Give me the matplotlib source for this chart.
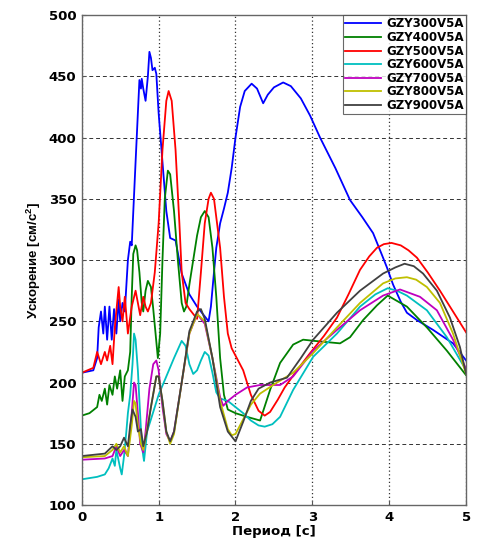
import matplotlib
matplotlib.use("Agg")
import matplotlib.pyplot as plt

plt.rcParams['font.family'] = ['DejaVu Sans']
plt.rcParams['mathtext.fontset'] = 'custom'
plt.rcParams['mathtext.rm'] = 'Liberation Sans:bold'
plt.rcParams['mathtext.bf'] = 'Liberation Sans:bold'

labels = ['GZY300V5A', 'GZY400V5A', 'GZY500V5A', 'GZY600V5A',
          'GZY700V5A', 'GZY800V5A', 'GZY900V5A']
colors = ['#0000ff', '#008000', '#ff0000', '#00bfbf', '#bf00bf', '#bfbf00', '#404040']
xticks = [0, 1, 2, 3, 4, 5]
yticks = [100, 150, 200, 250, 300, 350, 400, 450, 500]

x300 = [0, 0.15, 0.2, 0.22, 0.25, 0.28, 0.3, 0.33, 0.36, 0.39, 0.42, 0.45, 0.48, 0.5, 0.53, 0.56,
        0.6, 0.63, 0.65, 0.7, 0.75, 0.77, 0.78, 0.8, 0.83, 0.86, 0.88, 0.9, 0.92, 0.95, 0.97,
        1.0, 1.05, 1.1, 1.15, 1.22, 1.3, 1.4, 1.5, 1.6, 1.65, 1.68, 1.72, 1.75, 1.8, 1.85,
        1.9, 1.95, 2.0, 2.06, 2.12, 2.21, 2.28, 2.36, 2.42, 2.5, 2.62, 2.72, 2.85, 2.97, 3.1,
        3.3, 3.49, 3.65, 3.79, 3.9, 3.97, 4.05, 4.15, 4.23, 4.36, 4.57, 4.83, 5.0]
y300 = [208, 210, 220, 245, 258, 240, 262, 235, 262, 235, 260, 240, 268, 250, 265, 258,
        300, 315, 312, 380, 447, 440, 448, 440, 430, 450, 470, 465, 455, 457, 452,
        420, 380, 340, 318, 316, 289, 272, 262, 254, 250, 262, 290, 310, 330, 342,
        355, 375, 400, 425, 438, 444, 440, 428, 435, 441, 445, 442, 432, 418, 400,
        375, 349, 335, 322, 305, 294, 280, 266, 257, 251, 243, 232, 218]

x400 = [0, 0.1, 0.2, 0.23, 0.26, 0.3, 0.33, 0.36, 0.4, 0.43, 0.46, 0.5, 0.53, 0.56, 0.6, 0.63,
        0.65, 0.67, 0.7, 0.72, 0.75, 0.78, 0.8, 0.83, 0.86, 0.9, 0.93, 0.96, 0.99, 1.02, 1.05,
        1.08, 1.12, 1.15, 1.2, 1.25, 1.3, 1.33, 1.36, 1.4, 1.45, 1.5, 1.55, 1.6, 1.65, 1.7,
        1.75, 1.8, 1.85, 1.9, 2.0, 2.15, 2.32, 2.45, 2.58, 2.75, 2.88, 3.03, 3.19, 3.36,
        3.49, 3.66, 3.84, 3.98, 4.23, 4.49, 4.75, 5.0]
y400 = [173, 175, 180, 190, 185, 195, 182, 198, 190, 205, 195, 210, 185, 205, 210, 225,
        270, 305, 312, 308, 290, 265, 258, 275, 283, 278, 260, 240, 220, 240, 300,
        350, 373, 370, 340, 300, 265, 258, 262, 280, 300, 320, 335, 340, 335, 310,
        270, 220, 190, 178, 175, 172, 169, 194, 216, 231, 235, 234, 233, 232,
        237, 251, 263, 271, 262, 245, 226, 206]

x500 = [0, 0.15, 0.2, 0.25, 0.3, 0.33, 0.37, 0.4, 0.43, 0.46, 0.48, 0.5, 0.53, 0.56, 0.6,
        0.65, 0.7, 0.73, 0.76, 0.8, 0.83, 0.86, 0.9, 0.95, 1.0, 1.05, 1.1, 1.13, 1.17, 1.22,
        1.27, 1.3, 1.35, 1.4, 1.45, 1.5, 1.55, 1.6, 1.65, 1.68, 1.72, 1.8, 1.85, 1.9, 1.95,
        2.0, 2.1, 2.2, 2.3, 2.38, 2.45, 2.55, 2.64, 2.8, 2.97, 3.15, 3.32, 3.47, 3.62, 3.74,
        3.84, 3.93, 4.03, 4.15, 4.25, 4.36, 4.5, 4.66, 4.82, 5.0]
y500 = [208, 212, 225, 215, 225, 218, 230, 215, 245, 265, 278, 262, 250, 270, 240,
        262, 275, 265, 255, 270, 262, 258, 265, 290, 330, 390, 430, 438, 430, 390,
        330, 290, 265, 260, 256, 252, 290, 330, 350, 355, 350, 310, 270, 240, 228,
        222, 210, 190, 177, 173, 176, 186, 196, 210, 224, 238, 253, 272, 292, 303,
        310, 313, 314, 312, 308, 302, 290, 275, 259, 241]

x600 = [0, 0.2, 0.3, 0.35, 0.4, 0.43, 0.45, 0.5, 0.52, 0.55, 0.58, 0.6, 0.63, 0.66, 0.68,
        0.7, 0.73, 0.75, 0.78, 0.8, 0.81, 0.85, 0.9, 0.95, 1.0, 1.1, 1.2, 1.3, 1.35, 1.4,
        1.45, 1.5, 1.55, 1.6, 1.65, 1.7, 1.75, 1.8, 1.9, 2.0, 2.1, 2.2, 2.3, 2.38, 2.48,
        2.58, 2.75, 3.01, 3.32, 3.62, 3.82, 3.98, 4.1, 4.23, 4.49, 4.75, 5.0]
y600 = [121, 123, 125, 130, 138, 132, 145, 130, 125, 140, 160, 175, 190, 215, 240,
        235, 210, 185, 150, 140, 136, 160, 170, 180, 190, 205, 220, 234, 230, 215,
        207, 210, 218, 225, 222, 208, 192, 187, 185, 180, 175, 169, 165, 164, 166,
        172, 194, 221, 240, 262, 272, 277, 275, 271, 259, 237, 210]

x700 = [0, 0.3, 0.4, 0.45, 0.5, 0.55, 0.6, 0.65, 0.68, 0.7, 0.73, 0.76, 0.8, 0.83, 0.88,
        0.93, 0.97, 1.0, 1.05, 1.1, 1.15, 1.2, 1.3, 1.4, 1.5, 1.6, 1.7, 1.8, 1.84, 1.9,
        2.0, 2.15, 2.32, 2.58, 2.75, 3.01, 3.32, 3.62, 3.92, 4.14, 4.4, 4.62, 4.83, 5.0]
y700 = [137, 138, 140, 148, 140, 145, 140, 175, 200, 198, 175, 150, 143, 160, 195,
        215, 218, 210, 180, 158, 152, 160, 200, 240, 256, 248, 220, 188, 181, 185,
        190, 196, 198, 198, 205, 226, 243, 259, 271, 276, 270, 259, 235, 211]

x800 = [0, 0.3, 0.4, 0.45, 0.5, 0.55, 0.6, 0.65, 0.68, 0.7, 0.73, 0.77, 0.8, 0.83, 0.9,
        0.97, 1.0, 1.05, 1.1, 1.15, 1.2, 1.3, 1.4, 1.5, 1.6, 1.7, 1.8, 1.9, 1.95, 2.0,
        2.1, 2.2, 2.32, 2.54, 2.75, 3.01, 3.32, 3.62, 3.92, 4.08, 4.23, 4.35, 4.49, 4.66,
        4.83, 5.0]
y800 = [139, 140, 145, 150, 143, 148, 140, 165, 185, 183, 165, 150, 145, 155, 180,
        205, 205, 185, 160, 150, 158, 200, 240, 256, 250, 220, 185, 162, 157, 158,
        170, 182, 191, 200, 208, 224, 245, 265, 281, 285, 286, 284, 278, 265,
        240, 207]

x900 = [0, 0.3, 0.35, 0.4, 0.45, 0.5, 0.55, 0.6, 0.63, 0.66, 0.7, 0.73, 0.77, 0.8, 0.85,
        0.9, 0.97, 1.0, 1.05, 1.1, 1.15, 1.2, 1.3, 1.4, 1.5, 1.55, 1.6, 1.7, 1.8, 1.9, 2.0,
        2.1, 2.2, 2.3, 2.45, 2.67, 2.85, 3.01, 3.32, 3.62, 3.92, 4.08, 4.2, 4.32, 4.44,
        4.62, 4.79, 4.92, 5.0]
y900 = [140, 142, 145, 148, 145, 148, 155, 148, 165, 178, 172, 160, 162, 148, 160,
        180, 205, 205, 185, 160, 152, 160, 200, 242, 258, 260, 252, 220, 180, 160, 152,
        168, 185, 195, 200, 204, 220, 235, 257, 275, 289, 294, 297, 295, 289,
        275, 253, 229, 207]

xs = [x300, x400, x500, x600, x700, x800, x900]
ys = [y300, y400, y500, y600, y700, y800, y900]

fig = plt.figure(figsize=(4.81, 5.39), dpi=100)
ax = fig.add_axes([0.170, 0.063, 0.799, 0.909])

for x, y, c, l in zip(xs, ys, colors, labels):
    ax.plot(x, y, color=c, lw=1.3, label=l)

ax.set_xlim(0, 5)
ax.set_ylim(100, 500)
ax.set_xticks(xticks)
ax.set_yticks(yticks)
ax.tick_params(direction='in', length=3, labelsize=9.5, pad=4, color='#555555')
for t in ax.get_xticklabels() + ax.get_yticklabels():
    t.set_fontweight('bold')

ax.yaxis.grid(True, linestyle=(0, (4, 3)), color='#333333', lw=0.7)
ax.xaxis.grid(True, linestyle=(0, (1, 2)), color='#333333', lw=0.9)
for s in ax.spines.values():
    s.set_color('#666666')
    s.set_linewidth(1.0)

ax.set_xlabel('Период [с]', fontsize=9.5, fontweight='bold', labelpad=1)
ax.set_ylabel(r'Ускорение [см/с$^{2}$]', fontsize=9.5, fontweight='bold', labelpad=4,
              family='Liberation Sans')

leg = ax.legend(loc='upper right', handlelength=3.0, borderaxespad=0,
                frameon=True, fancybox=False, labelspacing=0.05, borderpad=0.2,
                handletextpad=0.45, prop={'weight': 'bold', 'size': 8.5, 'family': 'DejaVu Sans'})
leg.get_frame().set_edgecolor('#444444')
leg.get_frame().set_linewidth(0.8)

fig.savefig('out.png', dpi=100)
